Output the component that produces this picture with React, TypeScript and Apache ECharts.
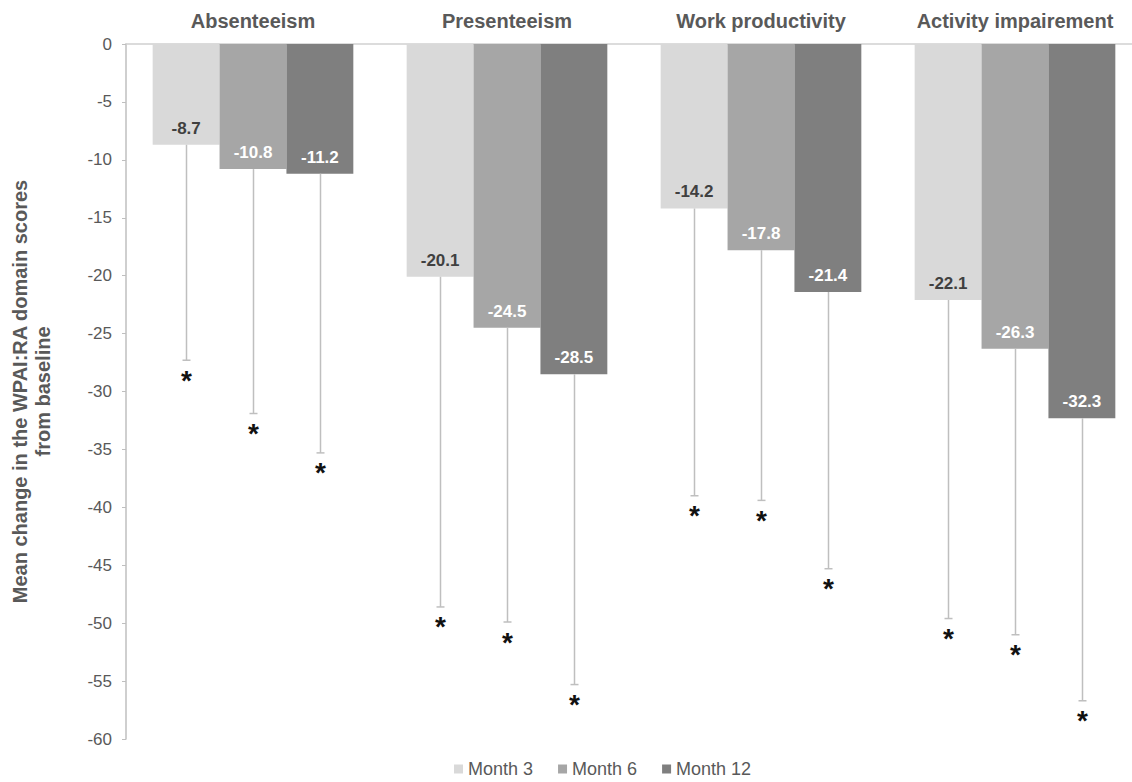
import React, { useEffect, useRef } from "react";
import * as echarts from "echarts";

const categories = ["Absenteeism", "Presenteeism", "Work productivity", "Activity impairement"];
const seriesNames = ["Month 3", "Month 6", "Month 12"];
const month3 = [-8.7, -20.1, -14.2, -22.1];
const month6 = [-10.8, -24.5, -17.8, -26.3];
const month12 = [-11.2, -28.5, -21.4, -32.3];
const month3Low = [-27.3, -48.6, -39.0, -49.6];
const month6Low = [-31.9, -49.9, -39.4, -51.0];
const month12Low = [-35.3, -55.3, -45.3, -56.7];
const yMin = -60;
const yMax = 0;
const yInterval = 5;

const barColors = ["#d9d9d9", "#a6a6a6", "#7f7f7f"];
const labelColors = ["#404040", "#ffffff", "#ffffff"];
const GAP = 0.21;
const FONT = "'Liberation Sans', Arial, sans-serif";

export default function App() {
  const ref = useRef<HTMLDivElement>(null);
  useEffect(() => {
    document.body.style.margin = "0";
    document.body.style.overflow = "hidden";
    const chart = echarts.init(ref.current!, null, { renderer: "svg" });
    const means = [month3, month6, month12];
    const lows = [month3Low, month6Low, month12Low];

    const barSeries = seriesNames.map((name, k) => ({
      name,
      type: "bar",
      data: means[k],
      barGap: "0%",
      barCategoryGap: GAP * 100 + "%",
      itemStyle: { color: barColors[k] },
      label: {
        show: true,
        position: "insideBottom",
        distance: 8,
        color: labelColors[k],
        fontWeight: "bold",
        fontSize: 17,
        fontFamily: FONT,
      },
      z: 2,
    }));

    const errSeries = seriesNames.map((name, k) => ({
      name: "err " + name,
      type: "custom",
      data: categories.map((_, i) => [i, means[k][i], lows[k][i]]),
      encode: { x: 0, y: [1, 2] },
      z: 3,
      renderItem: (params: any, api: any) => {
        const catW = api.size([1, 0])[0];
        const total = catW * (1 - GAP);
        const barW = total / 3;
        const offset = -total / 2 + barW * (k + 0.5);
        const top = api.coord([api.value(0), api.value(1)]);
        const bot = api.coord([api.value(0), api.value(2)]);
        const x = Math.round(top[0] + offset) + 0.5;
        const lineStyle = { stroke: "#bfbfbf", lineWidth: 1.5 };
        return {
          type: "group",
          children: [
            { type: "line", shape: { x1: x, y1: top[1], x2: x, y2: bot[1] }, style: lineStyle },
            { type: "line", shape: { x1: x - 4, y1: bot[1], x2: x + 4, y2: bot[1] }, style: lineStyle },
            {
              type: "text",
              x: x,
              y: bot[1] + 20,
              style: {
                text: "*",
                fill: "#111111",
                font: "bold 28px " + FONT,
                align: "center",
                verticalAlign: "middle",
              },
            },
          ],
        };
      },
    }));

    chart.setOption({
      animation: false,
      textStyle: { fontFamily: FONT },
      grid: { left: 126, top: 44, width: 1016, height: 695, containLabel: false },
      legend: {
        data: seriesNames,
        left: 449,
        top: 755,
        itemWidth: 9,
        itemHeight: 9,
        itemGap: 25,
        icon: "rect",
        textStyle: { color: "#595959", fontSize: 18, fontFamily: FONT },
      },
      xAxis: {
        type: "category",
        data: categories,
        position: "top",
        axisLine: { show: true, lineStyle: { color: "#d0d0d0", width: 1.5 } },
        axisTick: { show: false },
        axisLabel: {
          interval: 0,
          hideOverlap: false,
          color: "#595959",
          fontWeight: "bold",
          fontSize: 20,
          margin: 13,
          fontFamily: FONT,
        },
      },
      yAxis: {
        type: "value",
        min: yMin,
        max: yMax,
        interval: yInterval,
        name: "Mean change in the WPAI:RA domain scores\nfrom baseline",
        nameLocation: "middle",
        nameGap: 72,
        nameTextStyle: {
          color: "#595959",
          fontWeight: "bold",
          fontSize: 20,
          lineHeight: 23,
          fontFamily: FONT,
        },
        axisLine: { show: true, lineStyle: { color: "#bfbfbf", width: 1.5 } },
        axisTick: { show: true, length: 4, lineStyle: { color: "#bfbfbf" } },
        splitLine: { show: false },
        axisLabel: { color: "#595959", fontSize: 17, margin: 14, fontFamily: FONT },
      },
      series: [...barSeries, ...errSeries],
    });
    return () => chart.dispose();
  }, []);
  return <div ref={ref} style={{ width: 1160, height: 782 }} />;
}
